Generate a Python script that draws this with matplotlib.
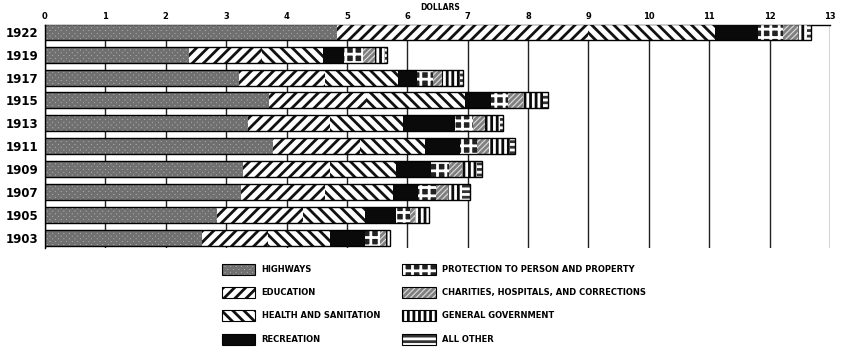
import matplotlib.pyplot as plt
from matplotlib.patches import Patch
import numpy as np

plt.rcParams['hatch.linewidth'] = 2.0

# years, top to bottom
years = ['1922', '1919', '1917', '1915', '1913', '1911', '1909', '1907', '1905', '1903']

# per capita cost of each function, dollars
highways = [4.83, 2.38, 3.22, 3.71, 3.36, 3.78, 3.28, 3.24, 2.85, 2.60]
education = [4.17, 1.21, 1.42, 1.62, 1.36, 1.44, 1.44, 1.40, 1.43, 1.10]
health = [2.09, 1.01, 1.21, 1.62, 1.21, 1.07, 1.10, 1.12, 1.02, 1.02]
recreation = [0.71, 0.35, 0.31, 0.43, 0.86, 0.58, 0.58, 0.42, 0.52, 0.58]
protection = [0.42, 0.31, 0.26, 0.29, 0.30, 0.29, 0.29, 0.29, 0.22, 0.25]
charities = [0.25, 0.21, 0.16, 0.24, 0.19, 0.20, 0.21, 0.21, 0.09, 0.10]
general_gov = [0.15, 0.16, 0.29, 0.34, 0.25, 0.34, 0.25, 0.22, 0.23, 0.06]
all_other = [0.06, 0.03, 0.06, 0.08, 0.05, 0.08, 0.09, 0.14, 0.00, 0.00]

labels = ['HIGHWAYS', 'EDUCATION', 'HEALTH AND SANITATION', 'RECREATION',
          'PROTECTION TO PERSON AND PROPERTY', 'CHARITIES, HOSPITALS, AND CORRECTIONS',
          'GENERAL GOVERNMENT', 'ALL OTHER']
series = [highways, education, health, recreation, protection, charities, general_gov, all_other]

# (facecolor, hatch, hatch color)
styles = [
    ('#b4b4b4', 'xxxxxx', '#707070'),
    ('white', '///', '#111111'),
    ('white', '\\\\\\', '#111111'),
    ('#0a0a0a', None, '#0a0a0a'),
    ('#222222', '++', 'white'),
    ('#dcdcdc', '//////', '#808080'),
    ('white', '|||', '#0a0a0a'),
    ('white', '---', '#333333'),
]

fig = plt.figure(figsize=(8.41, 3.53), dpi=100)
ax = fig.add_axes([45 / 841, 1 - 248 / 353, 785 / 841, 223 / 353])

y = np.arange(len(years))
left = np.zeros(len(years))
for vals, (fc, hatch, hc) in zip(series, styles):
    vals = np.array(vals)
    ax.barh(y, vals, left=left, height=0.7, color=fc, hatch=hatch,
            edgecolor=hc, linewidth=0, zorder=3)
    left += vals
# outline of each bar
ax.barh(y, left, height=0.7, fill=False, edgecolor='black', linewidth=1.0, zorder=4)

ax.set_xlim(0, 13)
ax.set_ylim(9.45, -0.3)
ax.set_xticks(range(14))
ax.xaxis.tick_top()
ax.tick_params(axis='x', length=0, pad=3, labelsize=6)
for t in ax.get_xticklabels():
    t.set_fontweight('bold')
ax.set_yticks(y)
ax.set_yticklabels(years, fontsize=8.5, fontweight='bold')
ax.tick_params(axis='y', length=0, pad=5)
ax.grid(axis='x', color='#222222', linewidth=1.0, zorder=1)
ax.spines['right'].set_visible(False)
ax.spines['bottom'].set_visible(False)
ax.spines['top'].set_linewidth(1.0)
ax.spines['left'].set_linewidth(1.0)

fig.text(440 / 841, 1 - 8 / 353, 'DOLLARS', fontsize=5.5, fontweight='bold',
         ha='center', va='center')

# hatch patch plus a black outline drawn on top of it
handles = [(Patch(facecolor=fc, hatch=h, edgecolor=hc, linewidth=0),
            Patch(fill=False, edgecolor='black', linewidth=0.8)) for fc, h, hc in styles]
leg = fig.legend(handles, labels, ncol=2, loc='upper left', bbox_to_anchor=(214 / 841, 1 - 256 / 353),
                 frameon=False, fontsize=6, handlelength=4.0, handleheight=1.7,
                 labelspacing=1.45, columnspacing=2.7, handletextpad=0.8)
for t in leg.get_texts():
    t.set_fontweight('bold')

fig.savefig('out.png', dpi=100)
